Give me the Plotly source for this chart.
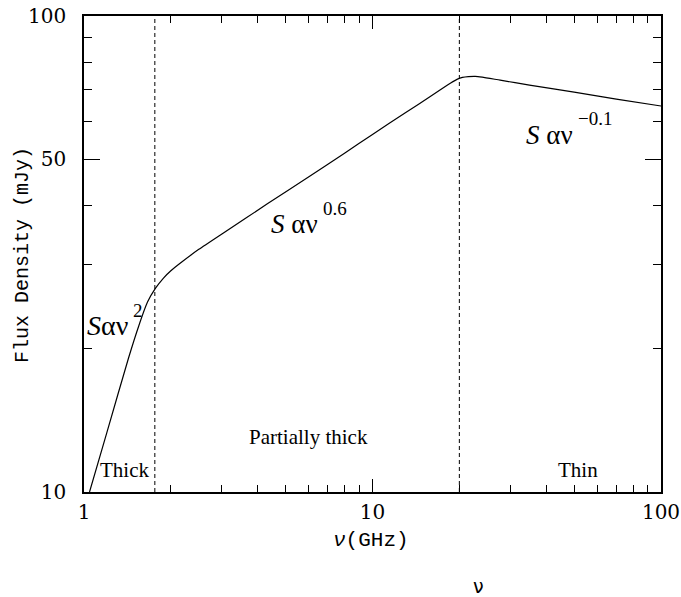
import plotly.graph_objects as go

# ---- data ----
nu_ghz = [1.045, 1.2, 1.426, 1.55, 1.66, 1.77, 1.886, 2.0, 2.159, 2.5, 3.043, 4.32,
          6.0, 8.0, 10.0, 13.0, 16.0, 18.2, 19.0, 19.7, 20.5, 21.5, 22.7, 24.0, 27.7,
          35.0, 50.0, 70.0, 100.0]
flux_mjy = [10.0, 13.33, 19.1, 22.38, 25.06, 26.8, 28.15, 29.16, 30.27, 32.34, 35.02, 40.3,
            45.9, 51.5, 56.4, 62.6, 68.0, 71.6, 72.8, 73.7, 74.3, 74.6, 74.7, 74.4, 73.3,
            71.6, 69.2, 66.9, 64.7]
boundaries_ghz = [1.76, 20.0]
y_span = [10, 100]
x_tickvals = [1, 10, 100]
x_minor = [2, 3, 4, 5, 6, 7, 8, 9, 20, 30, 40, 50, 60, 70, 80, 90]
y_tickvals = [10, 50, 100]
y_minor = [20, 30, 40, 60, 70, 80, 90]
region_labels = ["Thick", "Partially thick", "Thin"]

W, H = 681, 597
L, R, T, B = 84, 20, 16, 105
PW, PH = W - L - R, H - T - B

def px(xp):
    return (xp - L) / PW

def py(yp):
    return (H - B - yp) / PH

fig = go.Figure()
fig.add_trace(go.Scatter(x=nu_ghz, y=flux_mjy, mode="lines",
                         line=dict(color="black", width=1.2, shape="spline", smoothing=0.5),
                         showlegend=False))
for b in boundaries_ghz:
    fig.add_trace(go.Scatter(x=[b, b], y=y_span, mode="lines",
                             line=dict(color="black", width=1, dash="4px,3px"),
                             showlegend=False))

tickfam = "DejaVu Serif"
mono = "Liberation Mono"
serif = "Liberation Serif"

axis_common = dict(showgrid=False, zeroline=False, showline=True, linecolor="black",
                   linewidth=1.5, ticks="inside", mirror="allticks", tickcolor="black",
                   tickwidth=1, automargin=False,
                   tickfont=dict(family=tickfam, size=20, color="black"))

fig.update_xaxes(type="log", range=[0, 2], tickmode="array", tickvals=x_tickvals,
                 ticktext=[str(v) for v in x_tickvals], ticklen=13,
                 minor=dict(tickmode="array", tickvals=x_minor, ticklen=7, ticks="inside",
                            tickcolor="black", tickwidth=1, showgrid=False),
                 ticklabelstandoff=1, **axis_common)
fig.update_yaxes(type="log", range=[1, 2], tickmode="array", tickvals=y_tickvals,
                 ticktext=[str(v) for v in y_tickvals], ticklen=16,
                 minor=dict(tickmode="array", tickvals=y_minor, ticklen=8, ticks="inside",
                            tickcolor="black", tickwidth=1, showgrid=False),
                 ticklabelstandoff=12, **axis_common)

ann = []
def add(text, xp, yp, size, family, xanchor="center", yanchor="middle", angle=0):
    ann.append(dict(text=text, x=px(xp), y=py(yp), xref="paper", yref="paper",
                    showarrow=False, xanchor=xanchor, yanchor=yanchor, textangle=angle,
                    font=dict(family=family, size=size, color="black")))

add(region_labels[0], 124.5, 470, 21, serif)
add(region_labels[1], 308, 437, 21, serif)
add(region_labels[2], 578, 470, 21, serif)

add("<i>S</i>αν", 85, 325, 28, serif, xanchor="left")
add("2", 131, 310, 19, serif, xanchor="left")
add("<i>S</i> αν", 269, 224, 27, serif, xanchor="left")
add("0.6", 321, 208.5, 19, serif, xanchor="left")
add("<i>S</i> αν", 524, 135, 27, serif, xanchor="left")
add("−0.1", 576, 118.5, 19, serif, xanchor="left")

add("<i>ν</i>(GHz)", 371, 540, 21, mono)
add("Flux Density (mJy)", 22, 255, 20, mono, angle=-90)
add("ν", 478, 586, 19, "DejaVu Sans")

fig.update_layout(width=W, height=H, margin=dict(l=L, r=R, t=T, b=B),
                  plot_bgcolor="white", paper_bgcolor="white", annotations=ann,
                  showlegend=False)

fig.write_html("out.html")
